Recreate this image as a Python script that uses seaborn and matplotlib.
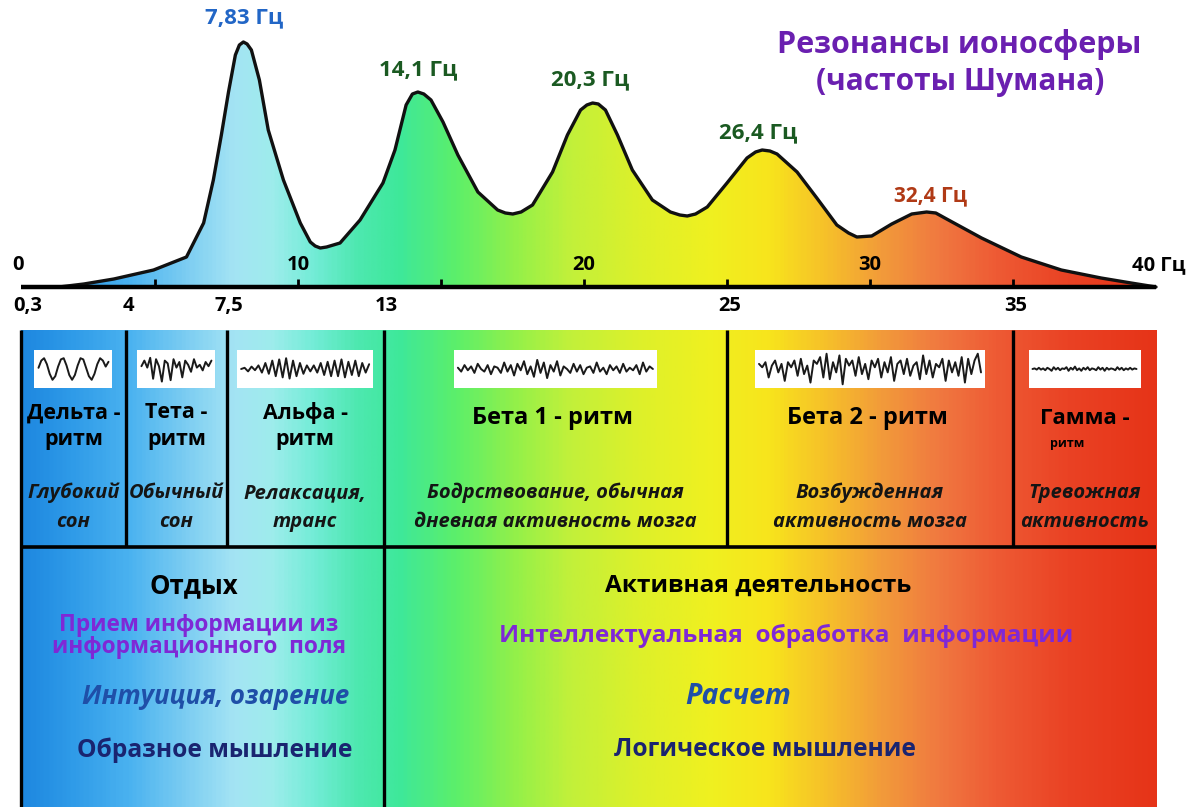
import numpy as np
import matplotlib
matplotlib.use('Agg')
import matplotlib.pyplot as plt
import seaborn as sns
from matplotlib.colors import LinearSegmentedColormap
from matplotlib.patches import Polygon, Rectangle

# --- данные ---
# огибающая резонансов Шумана: частота (Гц) и относительная амплитуда
spec_freq = [1.64, 2.51, 3.56, 4.95, 6.10, 6.70, 7.04, 7.32, 7.57, 7.81, 7.95, 8.09,
             8.22, 8.37, 8.65, 8.96, 9.49, 10.08, 10.43, 10.60, 10.78, 11.00, 11.47,
             12.17, 12.97, 13.39, 13.78, 14.00, 14.19, 14.40, 14.65, 15.07, 15.59,
             16.29, 16.98, 17.25, 17.51, 17.80, 18.20, 18.90, 19.42, 19.88, 20.10,
             20.30, 20.50, 20.75, 21.17, 21.69, 22.39, 23.02, 23.35, 23.61, 23.90,
             24.31, 25.00, 25.70, 26.00, 26.23, 26.50, 26.75, 27.45, 28.14, 28.84,
             29.25, 29.54, 30.06, 30.76, 31.46, 31.98, 32.30, 32.68, 33.90, 35.29,
             36.69, 38.08, 39.13, 40.00]
spec_amp = [0, 3, 8, 17, 30, 64, 107, 152, 195, 232, 242, 245,
            243, 237, 207, 157, 107, 64, 45, 41, 39, 40, 44,
            67, 104, 137, 182, 193, 195, 193, 187, 165, 132,
            95, 77, 74, 73, 75, 82, 115, 152, 177, 182,
            184, 183, 177, 152, 117, 87, 75, 72, 71, 73,
            80, 104, 129, 135, 137, 136, 133, 115, 89, 62,
            54, 50, 51, 63, 73, 75, 74, 68, 49, 30,
            17, 9, 4, 0]

peak_labels = ['7,83 Гц', '14,1 Гц', '20,3 Гц', '26,4 Гц', '32,4 Гц']
peak_label_x = [8.1, 14.2, 20.2, 26.1, 32.1]
peak_label_y = [269, 217, 207, 154, 91]
peak_colors = ['#2266c6', '#1b5a22', '#1b5a22', '#1b5a22', '#b03a16']

axis_minor = [5, 10, 15, 20, 25, 30, 35]
axis_label_pos = [0.2, 10, 20, 30, 40.1]
axis_label_txt = ['0', '10', '20', '30', '40 Гц']

band_edges = [0.3, 4, 7.5, 13, 25, 35, 40]
band_edge_txt = ['0,3', '4', '7,5', '13', '25', '35']
band_names = [['Дельта -', 'ритм'], ['Тета -', 'ритм'], ['Альфа -', 'ритм'],
              ['Бета 1 - ритм'], ['Бета 2 - ритм'], ['Гамма -', 'ритм']]
band_states = [['Глубокий', 'сон'], ['Обычный', 'сон'], ['Релаксация,', 'транс'],
               ['Бодрствование, обычная', 'дневная активность мозга'],
               ['Возбужденная', 'активность мозга'], ['Тревожная', 'активность']]

# ЭЭГ-записи (условные отсчёты)
delta_wave = [0.1, 0.7, 0.9, 0.4, -0.4, -0.9, -0.6, 0.2, 0.8, 0.9, 0.3, -0.5, -0.9,
              -0.5, 0.3, 0.9, 0.8, 0.1, -0.6, -0.9, -0.4, 0.4, 0.9, 0.7, 0.2, 0.6]
theta_wave = [0.2, 0.6, 0.1, 0.8, -0.7, 0.7, 0.2, -0.9, 0.6, 0.4, -0.8, 0.7, 0.1, 0.5,
              -0.6, 0.6, 0.3, -0.2, 0.7, 0.1, 0.3, -0.1, 0.5, 0.2, 0.6]
alpha_wave = [0, 0.1, -0.2, 0.2, -0.1, 0.3, -0.3, 0.5, -0.4, 0.7, -0.6, 0.8, -0.7, 0.9,
              -0.8, 0.7, -0.6, 0.5, -0.4, 0.3, -0.2, 0.3, -0.3, 0.5, -0.5, 0.6, -0.6,
              0.7, -0.6, 0.8, -0.7, 0.6, -0.5, 0.7, -0.6, 0.5, -0.3, 0.4]
beta1_wave = [0.1, -0.2, 0.3, -0.1, 0.2, -0.3, 0.4, 0.0, -0.2, 0.3, -0.4, 0.2, 0.1, -0.3,
              0.5, -0.2, 0.3, -0.5, 0.4, -0.1, 0.6, -0.4, 0.2, -0.6, 0.7, -0.3, 0.5, -0.7,
              0.3, -0.2, 0.6, -0.5, 0.2, 0.0, -0.3, 0.4, -0.2, 0.3, -0.4, 0.1, 0.2, -0.3,
              0.5, -0.2, 0.1, -0.4, 0.3, -0.1, 0.2, -0.3, 0.4, -0.2, 0.1, -0.1, 0.3, -0.4,
              0.5, -0.2, 0.2, 0.0]
beta2_wave = [0.3, 0.1, 0.4, -0.5, 0.2, 0.5, -0.2, 0.3, -0.7, 0.4, 0.1, 0.5, -0.4, 0.6,
              -0.3, 0.2, -0.8, 0.5, 0.3, 0.7, -0.5, 0.9, -0.6, 0.4, -0.2, 0.8, -0.9, 0.6,
              0.2, 0.5, -0.4, 0.7, -0.3, 0.3, -0.6, 0.5, 0.1, 0.6, -0.5, 0.4, -0.2, 0.7,
              -0.7, 0.3, 0.5, -0.3, 0.6, -0.4, 0.2, 0.4, -0.6, 0.8, -0.3, 0.5, -0.5, 0.3,
              0.1, 0.6, -0.7, 0.5, -0.2, 0.4, -0.4, 0.7, -0.8, 0.6, -0.3, 0.5, 0.9, -0.2]
gamma_wave = [0, 0.1, -0.1, 0.2, -0.1, 0.1, -0.2, 0.2, 0, -0.3, 0.3, -0.1, 0.2, -0.2,
              0.1, 0, 0.3, -0.3, 0.2, -0.1, 0.4, -0.2, 0.1, -0.3, 0.2, -0.1, 0.3, -0.2,
              0.1, 0, -0.2, 0.3, -0.1, 0.2, -0.3, 0.2, -0.1, 0.1, 0.0, -0.2, 0.3, -0.1,
              0.2, -0.2, 0.1, -0.1, 0.2, -0.1, 0.1, 0]
waves = [delta_wave, theta_wave, alpha_wave, beta1_wave, beta2_wave, gamma_wave]

# цвет спектра по частоте
grad_hz = [0.3, 2.0, 4.0, 6.0, 7.7, 9.0, 10.5, 12.0, 13.5, 15.5, 17.5, 19.5, 22.0,
           24.5, 26.5, 28.5, 30.5, 32.5, 34.5, 37.0, 40.0]
grad_colors = ['#1e88e0', '#2f9be8', '#4ab2f0', '#7ccdf2', '#a4e4f4', '#9eecec',
               '#72ecd6', '#4ee8b0', '#3ee89a', '#5cef6a', '#92f04a', '#c2f03a',
               '#def02a', '#f0f020', '#f8e41c', '#f6c02a', '#f29a3a', '#f07840',
               '#ee5a34', '#ea4224', '#e63418']

left_lines = ['Отдых', 'Прием информации из', 'информационного  поля',
              'Интуиция, озарение', 'Образное мышление']
right_lines = ['Активная деятельность', 'Интеллектуальная  обработка  информации',
               'Расчет', 'Логическое мышление']

# --- раскладка ---
W, H = 1195, 807
PX_PER_HZ = 28.6
X0_PX = 12


def hz(px):
    return (px - X0_PX) / PX_PER_HZ


sns.set_theme(style='white')
plt.rcParams['font.family'] = ['Open Sans', 'DejaVu Sans']
plt.rcParams['text.color'] = 'black'

fig = plt.figure(figsize=(W / 100, H / 100), dpi=100)
ax_spec = fig.add_axes([0, 1 - 300 / H, 1, 300 / H])
ax = fig.add_axes([0, 0, 1, 1 - 290 / H])

pos = [(h - grad_hz[0]) / (grad_hz[-1] - grad_hz[0]) for h in grad_hz]
cmap = LinearSegmentedColormap.from_list('spec', list(zip(pos, grad_colors)))
grad = np.linspace(0, 1, 600)[None, :]

# спектр
im = ax_spec.imshow(grad, cmap=cmap, aspect='auto', extent=(band_edges[0], band_edges[-1], 0, 260))
verts = [(spec_freq[0], 0)] + list(zip(spec_freq, spec_amp)) + [(spec_freq[-1], 0)]
clip = Polygon(verts, closed=True, facecolor='none', edgecolor='none')
ax_spec.add_patch(clip)
im.set_clip_path(clip)
sns.lineplot(x=spec_freq, y=spec_amp, color='#111111', linewidth=2.4, ax=ax_spec,
             legend=False, zorder=3, solid_joinstyle='round')
ax_spec.hlines(0, band_edges[0], band_edges[-1], color='black', linewidth=3.2, zorder=4)
ax_spec.vlines(axis_minor, 0, 8, color='black', linewidth=2, zorder=4)
for x, t in zip(axis_label_pos, axis_label_txt):
    ax_spec.text(x, 22, t, ha='center', va='center', fontsize=14.5, fontweight='bold')
for x, y, t, c in zip(peak_label_x, peak_label_y, peak_labels, peak_colors):
    fs = 15 if t.startswith('32') else 16
    ax_spec.text(x, y, t, ha='center', va='center', fontsize=fs, fontweight='bold', color=c)
ax_spec.text(hz(959), 242, 'Резонансы ионосферы', ha='center', va='center',
             fontsize=22, fontweight='bold', color='#6a1fb0')
ax_spec.text(hz(960), 205, '(частоты Шумана)', ha='center', va='center',
             fontsize=21.5, fontweight='bold', color='#6a1fb0')
ax_spec.set_xlim(hz(0), hz(W))
ax_spec.set_ylim(-13, 287)
ax_spec.axis('off')

# полосы ритмов
ax.imshow(grad, cmap=cmap, aspect='auto', extent=(band_edges[0], band_edges[-1], 807, 330))
for e, t in zip(band_edges[:-1], band_edge_txt):
    ax.text(e + (0.25 if e < 1 else 0.08), 306, t, ha='center', va='center',
            fontsize=14.5, fontweight='bold')
    bottom = 807 if e in (band_edges[0], 13) else 547
    ax.vlines(e, 330, bottom, color='black', linewidth=2.4)
ax.hlines(547, band_edges[0], band_edges[-1], color='black', linewidth=2.6)

box_w = [78, 78, 136, 203, 230, 112]
wave_amp = [12, 14, 12, 13, 17, 6]
for i in range(6):
    mid = (band_edges[i] + band_edges[i + 1]) / 2
    bw = box_w[i] / PX_PER_HZ
    ax.add_patch(Rectangle((mid - bw / 2, 350), bw, 38, facecolor='white', edgecolor='none'))
    w = waves[i]
    xs = np.linspace(mid - bw / 2 + 4 / PX_PER_HZ, mid + bw / 2 - 4 / PX_PER_HZ, len(w))
    ys = [369 - v * wave_amp[i] for v in w]
    sns.lineplot(x=xs, y=ys, color='#1a1a1a', linewidth=1.4, ax=ax, legend=False)

    names = band_names[i]
    if len(names) == 1:
        ax.text(mid - 0.1, 418, names[0], ha='center', va='center', fontsize=17, fontweight='bold')
    elif i == 5:
        ax.text(mid, 418, names[0], ha='center', va='center', fontsize=16, fontweight='bold')
        ax.text(mid - 0.6, 443, names[1], ha='center', va='center', fontsize=9, fontweight='bold')
    else:
        ax.text(mid, 413, names[0], ha='center', va='center', fontsize=15.5, fontweight='bold')
        ax.text(mid, 440, names[1], ha='center', va='center', fontsize=15.5, fontweight='bold')
    for j, s in enumerate(band_states[i]):
        ax.text(mid, 493 + 29 * j, s, ha='center', va='center', fontsize=14.5,
                fontweight='bold', style='italic', color='#151515')

# нижний блок
ax.text(hz(194), 586, left_lines[0], ha='center', va='center', fontsize=18.5, fontweight='bold')
ax.text(hz(199), 625, left_lines[1], ha='center', va='center', fontsize=16.3, fontweight='bold', color='#7f28d6')
ax.text(hz(199), 647, left_lines[2], ha='center', va='center', fontsize=16.3, fontweight='bold', color='#7f28d6')
ax.text(hz(216), 696, left_lines[3], ha='center', va='center', fontsize=18.5, fontweight='bold',
        style='italic', color='#1f4fa8')
ax.text(hz(215), 750, left_lines[4], ha='center', va='center', fontsize=17.7, fontweight='bold', color='#1a2470')

ax.text(hz(758), 586, right_lines[0], ha='center', va='center', fontsize=17.6, fontweight='bold')
ax.text(hz(786), 636, right_lines[1], ha='center', va='center', fontsize=17.6, fontweight='bold', color='#7f28d6')
ax.text(hz(738), 696, right_lines[2], ha='center', va='center', fontsize=20.5, fontweight='bold',
        style='italic', color='#1f4fa8')
ax.text(hz(765), 750, right_lines[3], ha='center', va='center', fontsize=17.7, fontweight='bold', color='#1a2470')

ax.set_xlim(hz(0), hz(W))
ax.set_ylim(807, 290)
ax.axis('off')

fig.savefig('out.png', dpi=100, facecolor='white')
